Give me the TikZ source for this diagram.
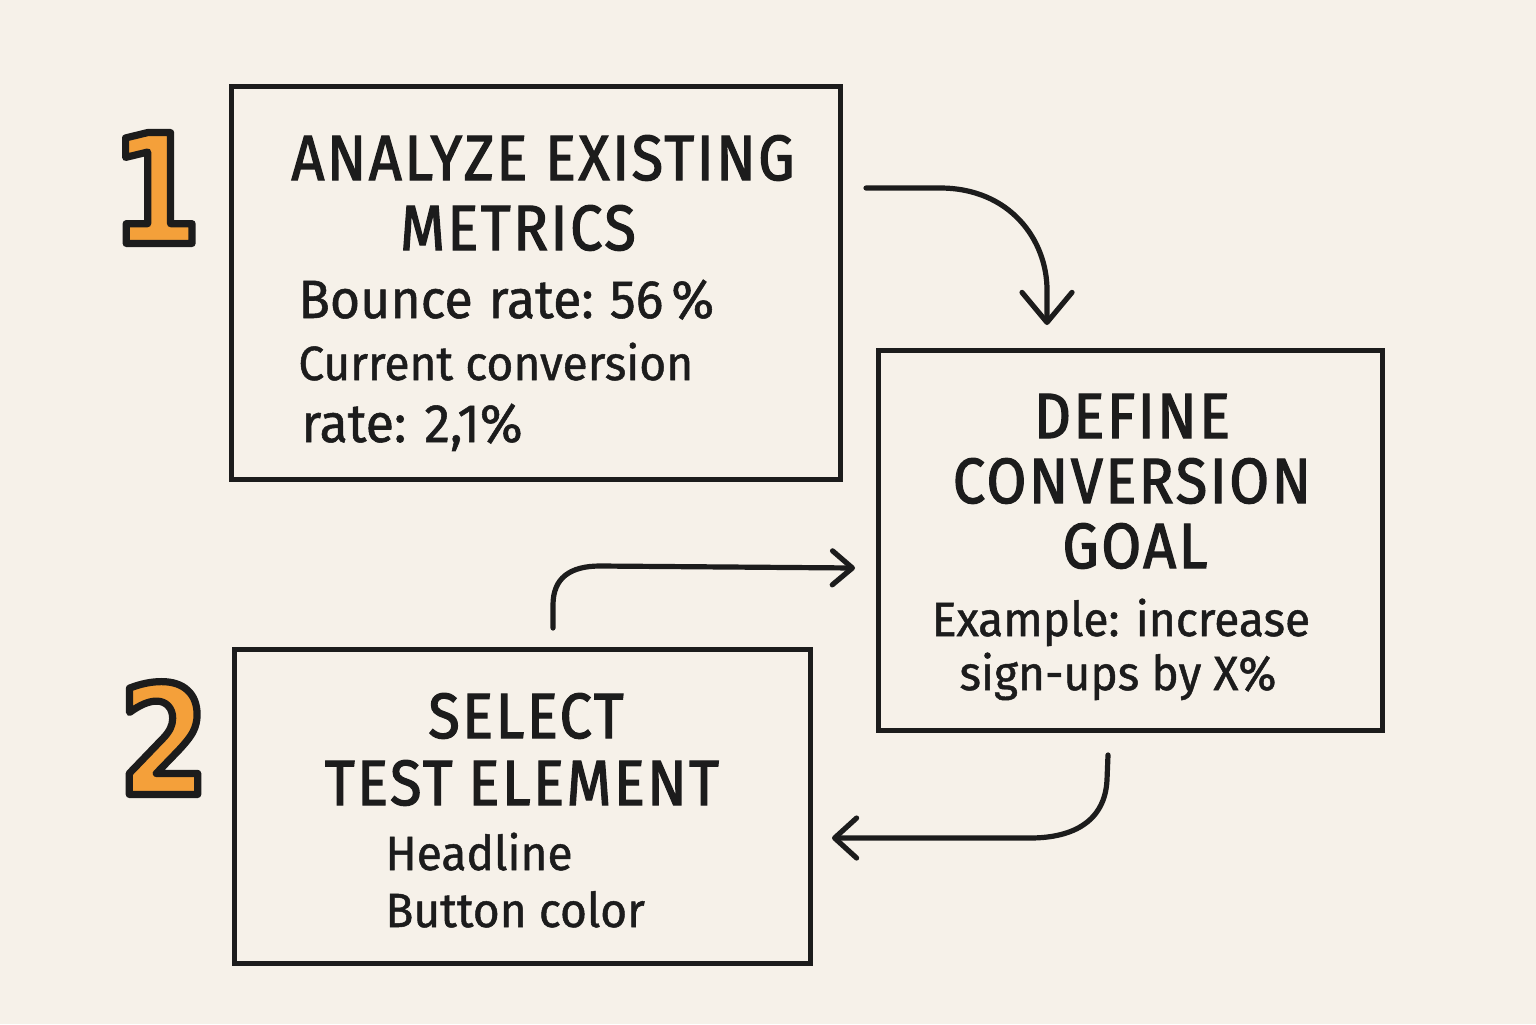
\documentclass[tikz,border=0pt]{standalone}
\usepackage{fontspec}
\setmainfont{Fira Sans}
\newfontfamily\titlefont[FakeStretch=0.9, LetterSpace=4, FakeBold=2]{Fira Sans}
\newfontfamily\bodyfont[FakeStretch=0.96, FakeBold=1]{Fira Sans}
\newfontfamily\numfont[FakeStretch=0.85]{DejaVu Sans}
\newcommand\outlined[1]{\special{pdf:literal direct 2 Tr 3.6 w 1 j 0.11 0.11 0.11 RG}#1\special{pdf:literal direct 0 Tr}}
\usetikzlibrary{arrows.meta}
\definecolor{bg}{RGB}{246,241,233}
\definecolor{ink}{RGB}{28,28,28}
\definecolor{orng}{RGB}{244,160,58}
\tikzset{
  box/.style={draw=ink, line width=2.5pt, rectangle, inner sep=0pt},
  ttl/.style={text=ink, font=\titlefont\fontsize{32}{36}\selectfont, anchor=base, inner sep=0pt},
  bdy/.style={text=ink, font=\bodyfont\fontsize{24}{28}\selectfont, anchor=base west, inner sep=0pt},
  bdybig/.style={text=ink, font=\bodyfont\fontsize{27}{30}\selectfont, anchor=base west, inner sep=0pt},
  bdyc/.style={text=ink, font=\bodyfont\fontsize{24}{28}\selectfont, anchor=base, inner sep=0pt},
  numtxt/.style={font=\numfont\bfseries\fontsize{76}{76}\selectfont, inner sep=0pt, anchor=center, text=orng},
  flow/.style={draw=ink, line width=2.6pt, line cap=round, line join=round},
}
\begin{document}
\begin{tikzpicture}[x=0.5pt,y=-0.5pt]
\fill[bg] (0,0) rectangle (1536,1024);
\useasboundingbox (0,0) rectangle (1536,1024);

% boxes
\node[box, minimum width=304.5pt, minimum height=196.5pt] (b1) at (535.5,282.5) {};
\node[box, minimum width=252pt, minimum height=190pt] (b2) at (1130,540) {};
\node[box, minimum width=288pt, minimum height=157pt] (b3) at (522,806) {};

% box 1 text
\node[ttl] (t1a) at (543,180) {ANALYZE EXISTING};
\node[ttl] (t1b) at (518,250) {METRICS};
\node[bdybig] (t1c) at (298,318) {Bounce\hspace{8pt}rate:\hspace{8pt}56\hspace{4pt}\%};
\node[bdy] (t1d) at (298,380) {Current conversion};
\node[bdybig] (t1e) at (301,442) {rate:\hspace{9pt}2,1\%};

% box 2 text
\node[ttl] (t2a) at (1132,438) {DEFINE};
\node[ttl] (t2b) at (1132,503) {CONVERSION};
\node[ttl] (t2c) at (1135,568) {GOAL};
\node[bdyc] (t2d) at (1121,636) {Example: increase};
\node[bdyc] (t2e) at (1118,690) {sign-ups by X\%};

% box 3 text
\node[ttl] (t3a) at (526,738) {SELECT};
\node[ttl] (t3b) at (522,805) {TEST\hspace{8pt}ELEMENT};
\node[bdy] (t3c) at (385,870) {Headline};
\node[bdy] (t3d) at (385,927) {Button color};

% numbers
\node[numtxt] (one) at (156,188) {\outlined{1}};
\node[numtxt] (two) at (164,738) {\outlined{2}};

% connectors
\coordinate (a1s) at (866,188);
\coordinate (a1e) at (1047,325);
\coordinate (a2s) at (553,628);
\coordinate (a2e) at (855,568);
\coordinate (a3s) at (1108,755);
\coordinate (a3e) at (832,838);

\draw[flow, -{Straight Barb[length=15pt, width=25pt, round]}]
  (a1s) -- (940,188) .. controls (1010,188) and (1047,240) .. (1047,290) -- (a1e);
\draw[flow, -{Straight Barb[length=10pt, width=17pt, round]}]
  (a2s) -- (553,605) .. controls (553,578) and (570,566) .. (600,566) -- (a2e);
\draw[flow, -{Straight Barb[length=11pt, width=20pt, round]}]
  (a3s) -- (1107,780) .. controls (1105,820) and (1075,838) .. (1030,838) -- (a3e);
\end{tikzpicture}
\end{document}
